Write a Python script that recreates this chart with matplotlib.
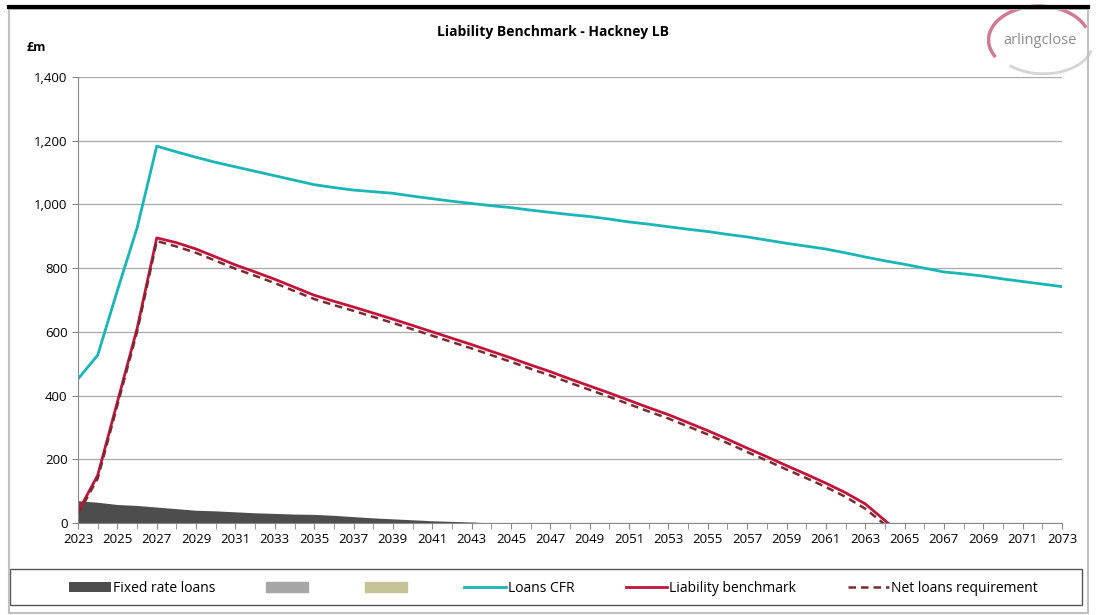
import matplotlib.pyplot as plt
import numpy as np
from matplotlib.patches import Rectangle, Arc

plt.rcParams['font.family'] = ['Open Sans', 'DejaVu Sans']

years = list(range(2023, 2074))

cfr = [452, 527, 730, 926, 1183, 1165, 1148, 1132, 1118, 1104, 1090, 1076, 1062, 1053, 1045, 1040,
       1035, 1026, 1018, 1010, 1003, 996, 990, 982, 975, 968, 962, 954, 945, 938, 930, 922,
       915, 906, 898, 888, 878, 869, 860, 848, 835, 823, 812, 800, 788, 782, 775, 766,
       758, 750, 742]

bench_years = list(range(2023, 2066))
benchmark = [35, 150, 380, 610, 895, 880, 860, 835, 810, 788, 765, 740, 715, 696, 678, 659,
             640, 620, 600, 580, 560, 539, 518, 496, 475, 452, 430, 408, 385, 362, 340, 315,
             290, 263, 235, 208, 180, 153, 125, 95, 60, 8, -45]
net_loans = [28, 140, 370, 600, 885, 868, 848, 823, 798, 776, 753, 728, 703, 684, 666, 647,
             628, 608, 588, 568, 548, 527, 506, 484, 463, 440, 418, 396, 373, 350, 328, 303,
             278, 251, 223, 196, 168, 141, 113, 82, 45, -5, -55]

fixed_years = list(range(2023, 2045))
fixed = [70, 65, 58, 55, 50, 45, 40, 38, 35, 32, 30, 28, 27, 24, 20, 16, 13, 10, 7, 5, 3, 0]

fig = plt.figure(figsize=(10.96, 6.15), dpi=100)
ax = fig.add_axes([0.0712, 0.1496, 0.8978, 0.7252])

ax.fill_between(fixed_years, fixed, 0, color='#4d4d4d', lw=0, label='Fixed rate loans')
ax.fill_between([], [], color='#a6a6a6', label=' ')
ax.fill_between([], [], color='#c4c497', label=' ')
ax.plot(years, cfr, color='#1ab5b5', lw=2, label='Loans CFR')
ax.plot(bench_years, benchmark, color='#c0143c', lw=2, label='Liability benchmark')
ax.plot(bench_years, net_loans, color='#7a2a30', lw=1.8, ls=(0, (3, 2)), label='Net loans requirement')

ax.set_xlim(2023, 2073)
ax.set_ylim(0, 1400)
ax.set_yticks(range(0, 1401, 200))
ax.set_yticklabels([f'{v:,}' for v in range(0, 1401, 200)])
ax.set_xticks(range(2023, 2074, 2))
ax.set_xticks(range(2023, 2074), minor=True)
ax.tick_params(axis='both', labelsize=9.5, color='#888888', length=4)
ax.tick_params(axis='x', which='minor', length=4, color='#888888')
ax.grid(axis='y', color='#a8a8a8', lw=0.9)
ax.set_axisbelow(True)
for s in ['top', 'right']:
    ax.spines[s].set_visible(False)
for s in ['left', 'bottom']:
    ax.spines[s].set_color('#888888')

fig.text(0.505, 0.948, 'Liability Benchmark - Hackney LB', ha='center', va='center',
         fontsize=10, fontweight='bold')
fig.text(0.024, 0.922, '£m', ha='left', va='center', fontsize=9, fontweight='bold')

# logo
fig.text(0.949, 0.934, 'arlingclose', ha='center', va='center', fontsize=10.5, color='#8c8c8c')
fig.add_artist(Arc((0.948, 0.935), 0.092, 0.11, theta1=25, theta2=215, color='#d07a95', lw=2.5,
                   transform=fig.transFigure))
fig.add_artist(Arc((0.952, 0.930), 0.09, 0.10, theta1=230, theta2=345, color='#d4d4d4', lw=2,
                   transform=fig.transFigure))

# frames
fig.add_artist(Rectangle((0.008, 0.003), 0.985, 0.982, fill=False, ec='#c0c0c0', lw=1.5,
                         transform=fig.transFigure))
fig.add_artist(plt.Line2D([0.008, 0.993], [0.988, 0.988], color='black', lw=3,
                          transform=fig.transFigure))
fig.add_artist(Rectangle((0.0095, 0.016), 0.978, 0.058, fill=True, fc='white', ec='#555555', lw=1.0,
                         transform=fig.transFigure, zorder=0))

leg = fig.legend(loc='center', bbox_to_anchor=(0.505, 0.043), ncol=6, frameon=False,
                 fontsize=10, handlelength=3, handletextpad=0.15, columnspacing=3.7)

fig.savefig('out.png', dpi=100)
